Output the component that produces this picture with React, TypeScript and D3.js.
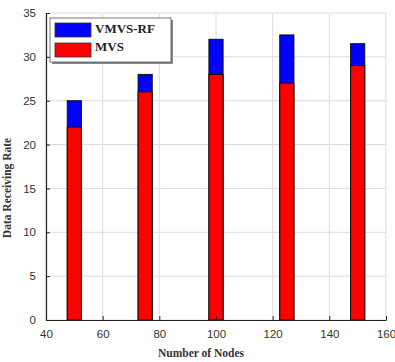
import React, { useRef, useEffect } from 'react';
import * as d3 from 'd3';

// node counts and receiving rates per protocol
const nodes = [50, 75, 100, 125, 150];
const vmvsRf = [25, 28, 32, 32.5, 31.5];
const mvs = [22, 26, 28, 27, 29];
const xTicks = [40, 60, 80, 100, 120, 140, 160];
const yTicks = [0, 5, 10, 15, 20, 25, 30, 35];

export default function App() {
  const svgRef = useRef<SVGSVGElement>(null);

  useEffect(() => {
    const svg = d3.select(svgRef.current);
    svg.selectAll('*').remove();

    const width = 395;
    const height = 362;
    const margin = { top: 13, right: 9, bottom: 42, left: 46 };

    svg.attr('width', width).attr('height', height);

    const x = d3.scaleLinear().domain([40, 160]).range([margin.left, width - margin.right]);
    const y = d3.scaleLinear().domain([0, 35]).range([height - margin.bottom, margin.top]);

    // grid
    const grid = svg.append('g').attr('stroke', '#dcdcdc').attr('stroke-width', 1);
    xTicks.forEach(t => {
      grid.append('line')
        .attr('x1', x(t)).attr('x2', x(t))
        .attr('y1', y(0)).attr('y2', y(35));
    });
    yTicks.forEach(t => {
      grid.append('line')
        .attr('x1', x(40)).attr('x2', x(160))
        .attr('y1', y(t)).attr('y2', y(t));
    });

    // bars: total first, MVS on top of it
    const barW = x(45) - x(40);
    svg.append('g').selectAll('rect')
      .data(nodes)
      .enter()
      .append('rect')
      .attr('x', (d) => x(d) - barW / 2)
      .attr('y', (_, i) => y(vmvsRf[i]))
      .attr('width', barW)
      .attr('height', (_, i) => y(0) - y(vmvsRf[i]))
      .attr('fill', '#0000ff')
      .attr('stroke', '#111')
      .attr('stroke-width', 1);

    svg.append('g').selectAll('rect')
      .data(nodes)
      .enter()
      .append('rect')
      .attr('x', (d) => x(d) - barW / 2)
      .attr('y', (_, i) => y(mvs[i]))
      .attr('width', barW)
      .attr('height', (_, i) => y(0) - y(mvs[i]))
      .attr('fill', '#ff0000')
      .attr('stroke', '#111')
      .attr('stroke-width', 1);

    // axes
    const xAxis = svg.append('g')
      .attr('transform', `translate(0, ${y(0)})`)
      .call(d3.axisBottom(x).tickValues(xTicks).tickSizeInner(-4).tickSizeOuter(0).tickPadding(10));
    const yAxis = svg.append('g')
      .attr('transform', `translate(${x(40)}, 0)`)
      .call(d3.axisLeft(y).tickValues(yTicks).tickSizeInner(-4).tickSizeOuter(0).tickPadding(10));

    [xAxis, yAxis].forEach(a => {
      a.select('.domain').attr('stroke', '#222').attr('stroke-width', 1.2);
      a.selectAll('.tick line').attr('stroke', '#222');
      a.selectAll('.tick text')
        .attr('font-family', 'Liberation Sans, Arial, sans-serif')
        .attr('font-size', 11.5)
        .attr('fill', '#333');
    });

    // axis titles
    svg.append('text')
      .attr('x', 201)
      .attr('y', 357)
      .attr('text-anchor', 'middle')
      .attr('font-family', 'Liberation Serif, Times New Roman, serif')
      .attr('font-weight', 'bold')
      .attr('font-size', 11.5)
      .attr('fill', '#333')
      .text('Number of Nodes');
    svg.append('text')
      .attr('transform', `translate(11, 188) rotate(-90)`)
      .attr('text-anchor', 'middle')
      .attr('font-family', 'Liberation Serif, Times New Roman, serif')
      .attr('font-weight', 'bold')
      .attr('font-size', 11.5)
      .attr('fill', '#333')
      .text('Data Receiving Rate');

    // legend
    const lg = svg.append('g').attr('transform', 'translate(50, 18)');
    lg.append('rect')
      .attr('x', 2).attr('y', 2).attr('width', 121).attr('height', 44)
      .attr('fill', '#888');
    lg.append('rect')
      .attr('x', 0).attr('y', 0).attr('width', 121).attr('height', 44)
      .attr('fill', '#fff').attr('stroke', '#555').attr('stroke-width', 0.8);
    const items = [
      { label: 'VMVS-RF', color: '#0000ff' },
      { label: 'MVS', color: '#ff0000' },
    ];
    items.forEach((it, i) => {
      lg.append('rect')
        .attr('x', 5).attr('y', 5 + i * 20)
        .attr('width', 36).attr('height', 14)
        .attr('fill', it.color).attr('stroke', '#333').attr('stroke-width', 0.8);
      lg.append('text')
        .attr('x', 45).attr('y', 15 + i * 18)
        .attr('font-family', 'Liberation Serif, Times New Roman, serif')
        .attr('font-weight', 'bold')
        .attr('font-size', 13)
        .attr('fill', '#222')
        .text(it.label);
    });
  }, []);

  return <svg ref={svgRef} style={{ position: 'absolute', left: 0, top: 0 }}></svg>;
}
